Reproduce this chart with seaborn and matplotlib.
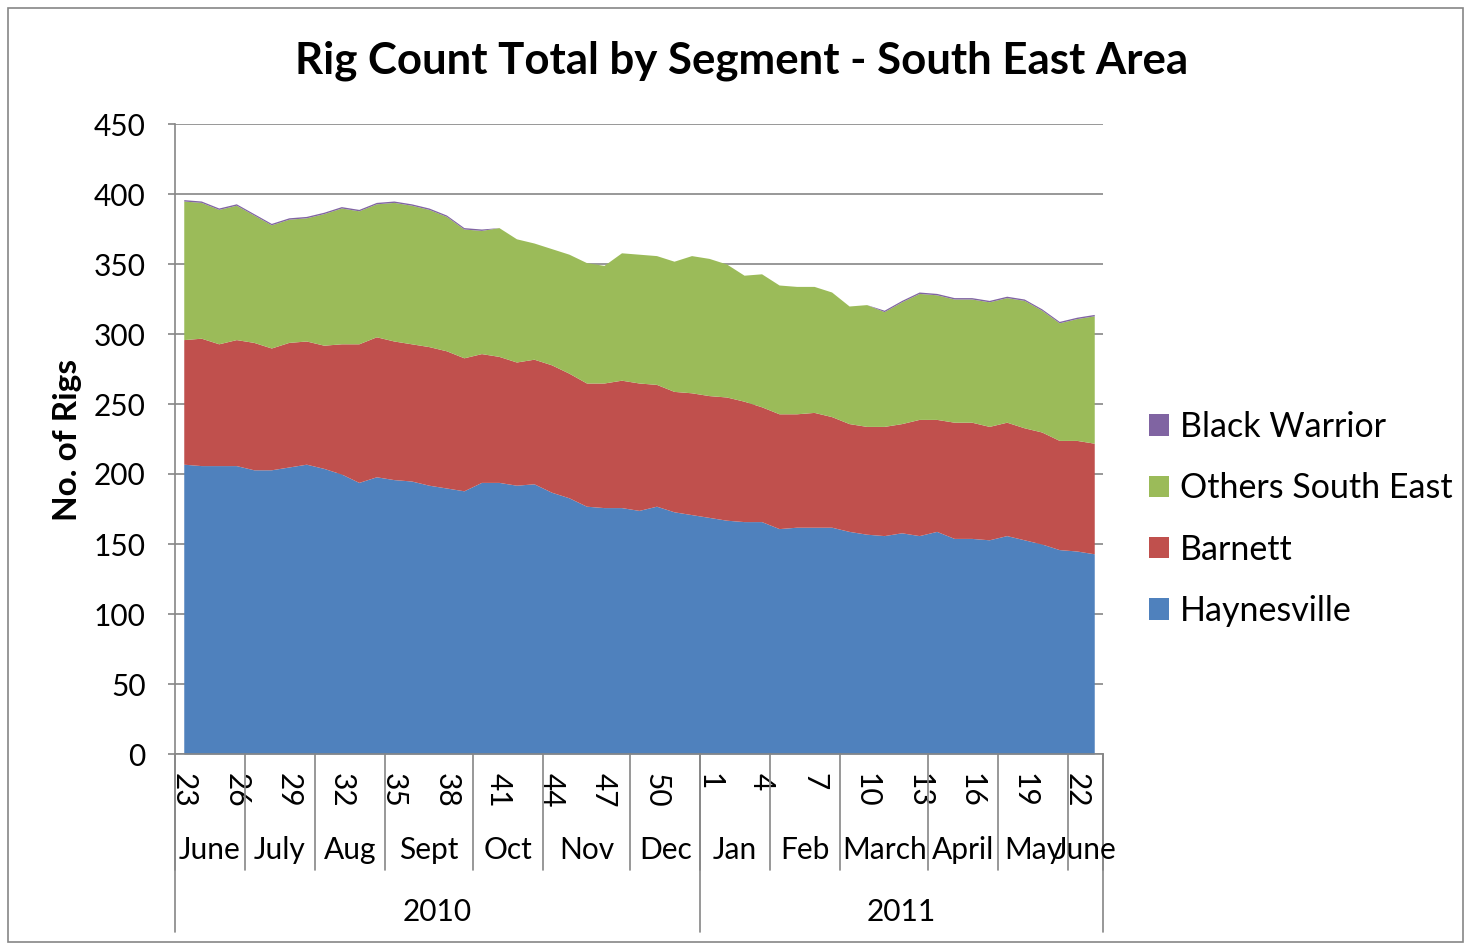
import numpy as np
import pandas as pd
import matplotlib
matplotlib.use("Agg")
import matplotlib.pyplot as plt
import matplotlib.transforms as mtransforms
from matplotlib.patches import Patch, Rectangle
import seaborn as sns

# ---------------- data ----------------
weeks = [23, 24, 25, 26, 27, 28, 29, 30, 31, 32, 33, 34, 35, 36, 37, 38, 39, 40, 41, 42,
         43, 44, 45, 46, 47, 48, 49, 50, 51, 52,
         1, 2, 3, 4, 5, 6, 7, 8, 9, 10, 11, 12, 13, 14, 15, 16, 17, 18, 19, 20, 21, 22, 23]
haynesville = [207, 206, 206, 206, 203, 203, 205, 207, 204, 200, 194, 198, 196, 195, 192, 190,
               188, 194, 194, 192, 193, 187, 183, 177, 176, 176, 174, 177, 173, 171, 169, 167,
               166, 166, 161, 162, 162, 162, 159, 157, 156, 158, 156, 159, 154, 154, 153, 156,
               153, 150, 146, 145, 143]
barnett = [89, 91, 87, 90, 91, 87, 89, 88, 88, 93, 99, 100, 99, 98, 99, 98, 95, 92, 90, 88,
           89, 91, 89, 88, 89, 91, 91, 87, 86, 87, 87, 88, 86, 82, 82, 81, 82, 79, 77, 77,
           78, 78, 83, 80, 83, 83, 81, 81, 80, 80, 78, 79, 79]
others_se = [99, 97, 96, 96, 91, 88, 88, 88, 94, 97, 95, 95, 99, 99, 98, 96, 92, 88, 92, 88,
             83, 83, 85, 86, 84, 91, 92, 92, 93, 98, 98, 95, 90, 95, 92, 91, 90, 89, 84, 87,
             82, 87, 90, 89, 88, 88, 89, 89, 91, 87, 84, 87, 91]
black_warrior = [1, 1, 1, 1, 1, 1, 1, 1, 1, 1, 1, 1, 1, 1, 1, 1, 1, 1, 0, 0,
                 0, 0, 0, 0, 0, 0, 0, 0, 0, 0, 0, 0, 0, 0, 0, 0, 0, 0, 0, 0,
                 1, 1, 1, 1, 1, 1, 1, 1, 1, 1, 1, 1, 1]
months = ["June", "July", "Aug", "Sept", "Oct", "Nov", "Dec",
          "Jan", "Feb", "March", "April", "May", "June"]
month_weeks = [4, 4, 4, 5, 4, 5, 4, 4, 4, 5, 4, 4, 2]
years = ["2010", "2011"]
year_weeks = [30, 23]
series_names = ["Haynesville", "Barnett", "Others South East", "Black Warrior"]
colors = ["#4F81BD", "#C0504D", "#9BBB59", "#8064A2"]

df = pd.DataFrame({"week": weeks, "Haynesville": haynesville, "Barnett": barnett,
                   "Others South East": others_se, "Black Warrior": black_warrior})

# ---------------- style ----------------
sns.set_theme(style="white")
plt.rcParams["font.family"] = ["Lato", "DejaVu Sans"]
plt.rcParams["text.color"] = "black"
GRAY = "#868686"
FS = 21.5

W, H = 1471, 948
fig = plt.figure(figsize=(W / 100, H / 100), dpi=100)
L, R, T, B = 175, 1103, 124, 754
ax = fig.add_axes([L / W, 1 - B / H, (R - L) / W, (B - T) / H])

x = np.arange(len(df))
ax.stackplot(x, [df[n] for n in series_names], colors=colors, linewidth=0, zorder=2)

ax.set_xlim(-0.5, len(df) - 0.5)
ax.set_ylim(0, 450)
ax.set_yticks(np.arange(0, 451, 50))
ax.yaxis.grid(True, color=GRAY, linewidth=1.2, zorder=0)
ax.set_axisbelow(True)
sns.despine(ax=ax, top=True, right=True)
for s in ("left", "bottom"):
    ax.spines[s].set_color(GRAY)
    ax.spines[s].set_linewidth(1.2)
ax.spines["bottom"].set_zorder(5)
ax.tick_params(axis="y", which="major", left=True, length=5, width=1.2, color=GRAY,
               pad=16, labelsize=FS, labelcolor="black")

# week tick labels
tick_idx = list(range(0, len(df), 3))
ax.set_xticks(tick_idx)
ax.set_xticklabels([str(weeks[i]) for i in tick_idx], rotation=-90, fontsize=FS,
                   va="top", ha="center")
ax.tick_params(axis="x", length=0, pad=14, labelcolor="black")

# multi-level category axis
trans = mtransforms.blended_transform_factory(ax.transData, ax.transAxes)
month_bottom = (B - 870) / (B - T)
year_bottom = (B - 932) / (B - T)
start = 0
for name, n in zip(months, month_weeks):
    ax.plot([start - 0.5, start - 0.5], [0, month_bottom], transform=trans,
            color=GRAY, lw=1.2, clip_on=False)
    ax.text(start - 0.5 + n / 2, (B - 850) / (B - T), name, transform=trans,
            ha="center", va="center", fontsize=FS, color="black")
    start += n
ax.plot([start - 0.5, start - 0.5], [0, month_bottom], transform=trans,
        color=GRAY, lw=1.2, clip_on=False)
start = 0
for name, n in zip(years, year_weeks):
    ax.plot([start - 0.5, start - 0.5], [0, year_bottom], transform=trans,
            color=GRAY, lw=1.2, clip_on=False)
    ax.text(start - 0.5 + n / 2, (B - 912) / (B - T), name, transform=trans,
            ha="center", va="center", fontsize=FS, color="black")
    start += n
ax.plot([start - 0.5, start - 0.5], [0, year_bottom], transform=trans,
        color=GRAY, lw=1.2, clip_on=False)

# title and axis label
fig.text(742 / W, 1 - 61 / H, "Rig Count Total by Segment - South East Area",
         ha="center", va="center", fontsize=31.5, fontweight="bold", color="black")
fig.text(67 / W, 1 - 440 / H, "No. of Rigs", rotation=90, ha="center", va="center",
         fontsize=24, fontweight="bold", color="black")

# legend
handles = [Patch(facecolor=c, edgecolor="none", label=n)
           for n, c in zip(series_names[::-1], colors[::-1])]
leg = fig.legend(handles=handles, loc="center left", bbox_to_anchor=(1149 / W, 1 - 519 / H),
                 frameon=False, fontsize=24.5, handlelength=0.6, handleheight=0.6,
                 handletextpad=0.3, labelspacing=0.86, borderpad=0, borderaxespad=0)
for t in leg.get_texts():
    t.set_color("black")

# outer chart border
fig.patches.append(Rectangle((8 / W, 6 / H), 1455 / W, 934 / H, transform=fig.transFigure,
                             fill=False, edgecolor=GRAY, linewidth=1.2))

fig.savefig("out.png", dpi=100)
